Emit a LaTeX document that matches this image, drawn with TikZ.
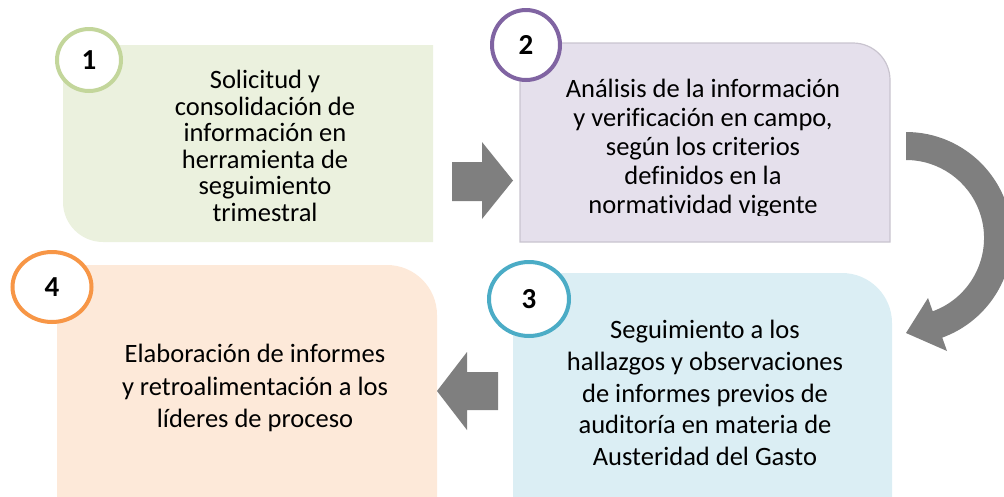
\documentclass[tikz,border=0pt]{standalone}
\usepackage{fontspec}
\setmainfont{Carlito}[Ligatures=NoCommon]
\usetikzlibrary{shapes.geometric}
\definecolor{fillA}{HTML}{EBF1DE}
\definecolor{ringA}{HTML}{C3D69B}
\definecolor{fillB}{HTML}{E5E0EC}
\definecolor{lineB}{HTML}{C9C4CF}
\definecolor{ringB}{HTML}{8064A2}
\definecolor{fillC}{HTML}{DBEEF4}
\definecolor{ringC}{HTML}{4BACC6}
\definecolor{fillD}{HTML}{FDE9D9}
\definecolor{ringD}{HTML}{F79646}
\definecolor{arrowgray}{HTML}{7F7F7F}
\begin{document}
\begin{tikzpicture}[x=1pt,y=-1pt,
  txt/.style={align=center,inner sep=0pt,text=black,font=\fontsize{26.5}{#1}\selectfont},
  ring/.style={ellipse,draw=#1,line width=4pt,fill=white,inner sep=0pt,
    font=\fontsize{29}{30}\selectfont\bfseries},
  blockarrow/.style={fill=arrowgray}]
\useasboundingbox (0,0) rectangle (1004,496);
\clip (0,0) rectangle (1004,496);
% boxes
\fill[fillA] (63,45) -- (433,45) -- (433,242) -- (103,242)
  arc[start angle=90,end angle=180,radius=40] -- cycle;
\filldraw[fill=fillB,draw=lineB,line width=1.2pt] (520,43) -- (853,43)
  arc[start angle=-90,end angle=0,radius=37] -- (890,242) -- (520,242) -- cycle;
\fill[fillC] (513,273) -- (842,273)
  arc[start angle=-90,end angle=0,radius=50] -- (892,510) -- (513,510) -- cycle;
\fill[fillD] (57,265) -- (387,265)
  arc[start angle=-90,end angle=0,radius=50] -- (437,510) -- (57,510) -- cycle;
% texts
\node[txt=26.5] (t1) at (265,146) {Solicitud y\\consolidación de\\información en\\herramienta de\\seguimiento\\trimestral};
\begin{scope}
\clip (520,43) rectangle (890,215);
\node[txt=29] (t2) at (703,149) {Análisis de la información\\y verificación en campo,\\según los criterios\\definidos en la\\normatividad vigente};
\end{scope}
\node[txt=31.7] (t3) at (705,393) {Seguimiento a los\\hallazgos y observaciones\\de informes previos de\\auditoría en materia de\\Austeridad del Gasto};
\node[txt=32.3] (t4) at (255,388) {Elaboración de informes\\y retroalimentación a los\\líderes de proceso};
% number rings
\node[ring=ringA,minimum width=64pt,minimum height=62pt] (n1) at (89,60) {1};
\node[ring=ringB,minimum width=68pt,minimum height=70pt] (n2) at (526,45) {2};
\node[ring=ringC,minimum width=80pt,minimum height=74pt] (n3) at (529,299) {3};
\node[ring=ringD,minimum width=79pt,minimum height=70pt] (n4) at (52,287) {4};
% arrows
\fill[blockarrow] (452,162) -- (482,162) -- (482,142) -- (513,180.5)
  -- (482,219) -- (482,201) -- (452,201) -- cycle;
\fill[blockarrow] (498,372) -- (467,372) -- (467,352) -- (437,391)
  -- (467,430) -- (467,410) -- (498,410) -- cycle;
\fill[blockarrow] (906,132) arc[start angle=-90,end angle=70,radius=106]
  -- (947,351) -- (906,333) -- (928,298) -- (932.7,311.3)
  arc[start angle=70,end angle=-90,radius=78] -- cycle;
\end{tikzpicture}
\end{document}
